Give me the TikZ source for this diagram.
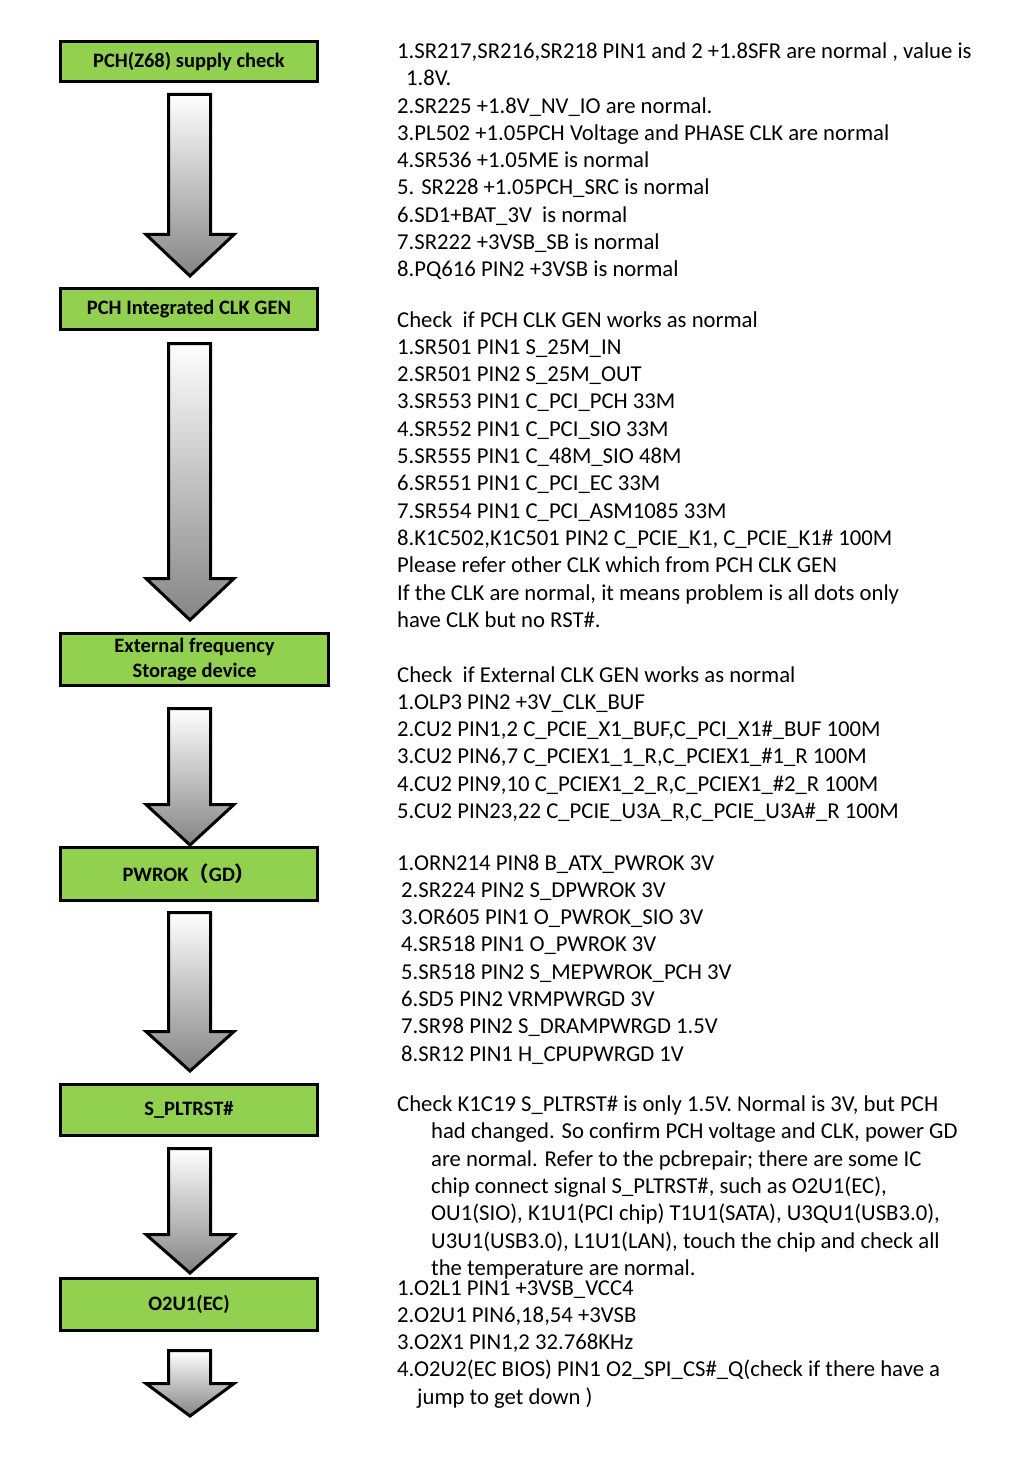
\documentclass[tikz,border=0pt]{standalone}
\usepackage{fontspec}
\setmainfont{Carlito}
\newfontfamily\cjk{Noto Sans CJK SC}
\definecolor{boxgreen}{HTML}{92D050}
\newcommand\blockarrow[3]{\path[barrow] (168.5,#1) -- (210.5,#1) -- (210.5,#2) -- (234,#2) -- (190,#3) -- (146,#2) -- (168.5,#2) -- cycle;}
\begin{document}
\begin{tikzpicture}[x=1pt,y=-1pt,
 box/.style={draw=black, line width=3pt, fill=boxgreen, inner sep=0pt, font=\bfseries\fontsize{20.5}{25}\selectfont, align=center},
 txt/.style={anchor=base west, inner sep=0pt, font=\fontsize{22.7}{27.3}\selectfont},
 barrow/.style={draw=black, line width=3pt, top color=white, bottom color=black!48, line join=miter}]
\useasboundingbox (0,0) rectangle (1024,1479);
% boxes
\node[box, minimum width=257, minimum height=40] (b1) at (189,61.5) {PCH(Z68) supply check};
\node[box, minimum width=257, minimum height=41] (b2) at (189,309) {PCH Integrated CLK GEN};
\node[box, minimum width=268, minimum height=52] (b3) at (194.5,659.5) {External frequency\\Storage device};
\node[box, minimum width=257, minimum height=53] (b4) at (189,874) {PWROK{\cjk（}GD{\cjk）}};
\node[box, minimum width=257, minimum height=51] (b5) at (189,1110) {S\_PLTRST\#};
\node[box, minimum width=257, minimum height=52] (b6) at (189,1304.5) {O2U1(EC)};
% block arrows
\blockarrow{94.5}{234.5}{276}
\blockarrow{343.5}{578.5}{620}
\blockarrow{708.5}{804.5}{845}
\blockarrow{912.5}{1031.5}{1071}
\blockarrow{1148.5}{1234.5}{1273}
\blockarrow{1350.5}{1383.5}{1416}
% texts
\node[txt] (t1) at (397,58.5) {\begin{tabular}[t]{@{}l@{}}
1.SR217,SR216,SR218 PIN1 and 2 +1.8SFR are normal , value is\\
\hspace*{9pt}1.8V.\\
2.SR225 +1.8V\_NV\_IO are normal.\\
3.PL502 +1.05PCH Voltage and PHASE CLK are normal\\
4.SR536 +1.05ME is normal\\
5. SR228 +1.05PCH\_SRC is normal\\
6.SD1+BAT\_3V\ \ is normal\\
7.SR222 +3VSB\_SB is normal\\
8.PQ616 PIN2 +3VSB is normal
\end{tabular}};
\node[txt] (t2) at (397,327) {\begin{tabular}[t]{@{}l@{}}
Check\ \ if PCH CLK GEN works as normal\\
1.SR501 PIN1 S\_25M\_IN\\
2.SR501 PIN2 S\_25M\_OUT\\
3.SR553 PIN1 C\_PCI\_PCH 33M\\
4.SR552 PIN1 C\_PCI\_SIO 33M\\
5.SR555 PIN1 C\_48M\_SIO 48M\\
6.SR551 PIN1 C\_PCI\_EC 33M\\
7.SR554 PIN1 C\_PCI\_ASM1085 33M\\
8.K1C502,K1C501 PIN2 C\_PCIE\_K1, C\_PCIE\_K1\# 100M\\
Please refer other CLK which from PCH CLK GEN\\
If the CLK are normal, it means problem is all dots only\\
have CLK but no RST\#.
\end{tabular}};
\node[txt] (t3) at (397,682) {\begin{tabular}[t]{@{}l@{}}
Check\ \ if External CLK GEN works as normal\\
1.OLP3 PIN2 +3V\_CLK\_BUF\\
2.CU2 PIN1,2 C\_PCIE\_X1\_BUF,C\_PCI\_X1\#\_BUF 100M\\
3.CU2 PIN6,7 C\_PCIEX1\_1\_R,C\_PCIEX1\_\#1\_R 100M\\
4.CU2 PIN9,10 C\_PCIEX1\_2\_R,C\_PCIEX1\_\#2\_R 100M\\
5.CU2 PIN23,22 C\_PCIE\_U3A\_R,C\_PCIE\_U3A\#\_R 100M
\end{tabular}};
\node[txt] (t4) at (397,870) {\begin{tabular}[t]{@{}l@{}}
1.ORN214 PIN8 B\_ATX\_PWROK 3V\\
\hspace*{4pt}2.SR224 PIN2 S\_DPWROK 3V\\
\hspace*{4pt}3.OR605 PIN1 O\_PWROK\_SIO 3V\\
\hspace*{4pt}4.SR518 PIN1 O\_PWROK 3V\\
\hspace*{4pt}5.SR518 PIN2 S\_MEPWROK\_PCH 3V\\
\hspace*{4pt}6.SD5 PIN2 VRMPWRGD 3V\\
\hspace*{4pt}7.SR98 PIN2 S\_DRAMPWRGD 1.5V\\
\hspace*{4pt}8.SR12 PIN1 H\_CPUPWRGD 1V
\end{tabular}};
\node[txt] (t5) at (397,1111.5) {\begin{tabular}[t]{@{}l@{}}
Check K1C19 S\_PLTRST\# is only 1.5V. Normal is 3V, but PCH\\
\hspace*{34pt}had changed. So confirm PCH voltage and CLK, power GD\\
\hspace*{34pt}are normal. Refer to the pcbrepair; there are some IC\\
\hspace*{34pt}chip connect signal S\_PLTRST\#, such as O2U1(EC),\\
\hspace*{34pt}OU1(SIO), K1U1(PCI chip) T1U1(SATA), U3QU1(USB3.0),\\
\hspace*{34pt}U3U1(USB3.0), L1U1(LAN), touch the chip and check all\\
\hspace*{34pt}the temperature are normal.
\end{tabular}};
\node[txt] (t6) at (397,1295) {\begin{tabular}[t]{@{}l@{}}
1.O2L1 PIN1 +3VSB\_VCC4\\
2.O2U1 PIN6,18,54 +3VSB\\
3.O2X1 PIN1,2 32.768KHz\\
4.O2U2(EC BIOS) PIN1 O2\_SPI\_CS\#\_Q(check if there have a\\
\hspace*{20pt}jump to get down )
\end{tabular}};
\end{tikzpicture}
\end{document}
